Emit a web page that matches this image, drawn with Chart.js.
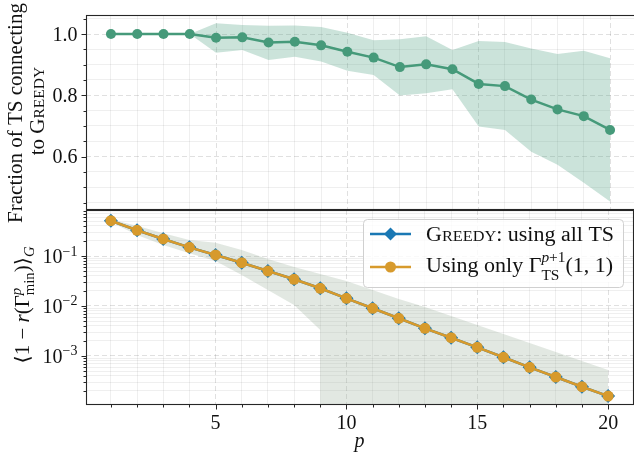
<!DOCTYPE html>
<html>
<head>
<meta charset="utf-8">
<script src="https://cdn.jsdelivr.net/npm/chart.js@4.4.1/dist/chart.umd.min.js"></script>
<style>
  html, body { margin: 0; padding: 0; background: #fff; overflow: hidden; }
  #wrap { position: relative; width: 640px; height: 462px; }
  #wrap canvas { position: absolute; left: 0; top: 0; }
</style>
</head>
<body>
<div id="wrap">
  <canvas id="lower" width="640" height="462"></canvas>
  <canvas id="upper" width="640" height="462"></canvas>
</div>
<script>
// ---- data ----
const depths = [1, 2, 3, 4, 5, 6, 7, 8, 9, 10, 11, 12, 13, 14, 15, 16, 17, 18, 19, 20];

// fraction of transition states that connect to the greedy path (mean and mean ± std)
const fractionMean  = [1.000, 1.000, 1.000, 1.000, 0.988, 0.989, 0.972, 0.975, 0.963, 0.942,
                       0.923, 0.892, 0.901, 0.885, 0.837, 0.830, 0.786, 0.754, 0.732, 0.687];
const fractionUpper = [1.000, 1.000, 1.000, 1.000, 1.035, 1.029, 1.027, 1.028, 1.023, 1.004,
                       0.980, 0.983, 0.993, 0.948, 0.977, 0.974, 0.953, 0.935, 0.945, 0.921];
const fractionLower = [1.000, 1.000, 1.000, 1.000, 0.939, 0.948, 0.915, 0.926, 0.910, 0.880,
                       0.866, 0.799, 0.807, 0.820, 0.698, 0.687, 0.616, 0.573, 0.515, 0.453];

// approximation ratio gap <1 - r> averaged over graphs
const gapGreedy = [0.508, 0.327, 0.219, 0.149, 0.105, 0.0735, 0.0500, 0.0342, 0.0226, 0.01425,
                   0.00900, 0.00568, 0.00358, 0.00232, 0.00149, 0.000942, 0.000594, 0.000380, 0.000243, 0.000158];
const gapOnlyTS = [0.508, 0.327, 0.219, 0.149, 0.105, 0.0735, 0.0500, 0.0342, 0.0226, 0.01425,
                   0.00900, 0.00568, 0.00358, 0.00232, 0.00149, 0.000942, 0.000594, 0.000380, 0.000243, 0.000158];
const gapUpper  = [0.537, 0.404, 0.284, 0.209, 0.184, 0.132, 0.0871, 0.0603, 0.0437, 0.0316,
                   0.0209, 0.0138, 0.00955, 0.00631, 0.00417, 0.00275, 0.00182, 0.00120, 0.000790, 0.000525];
// mean - std; non-positive from p = 10 on (falls off the log axis)
const gapLower  = [0.479, 0.263, 0.166, 0.113, 0.0794, 0.0417, 0.0209, 0.0105, 0.0033, 0,
                   0, 0, 0, 0, 0, 0, 0, 0, 0, 0];

// axis ticks
const xMajorTicks = [5, 10, 15, 20];
const xMinorTicks = [1, 2, 3, 4, 6, 7, 8, 9, 11, 12, 13, 14, 16, 17, 18, 19];
const xTickLabels = ['5', '10', '15', '20'];
const fracMajorTicks = [0.6, 0.8, 1.0];
const fracMinorTicks = [0.45, 0.5, 0.55, 0.65, 0.7, 0.75, 0.85, 0.9, 0.95, 1.05];
const fracTickLabels = ['0.6', '0.8', '1.0'];
const gapMajorTicks = [1e-3, 1e-2, 1e-1];
const gapTickExponents = ['\u22123', '\u22122', '\u22121'];
const gapMinorMantissas = [2, 3, 4, 5, 6, 7, 8, 9];
const gapMinorDecades = [1e-4, 1e-3, 1e-2, 1e-1];

// ---- style ----
const GREEN = '#469a7a';
const BLUE = '#1a78b4';
const ORANGE = '#d79a2c';
const SPINE = '#262626';
const SERIF = '"Liberation Serif", "DejaVu Serif", serif';
const FS = 20;

const X_RANGE = { min: 0.05, max: 20.95 };
const FRAC_RANGE = { min: 0.429, max: 1.062 };
const GAP_RANGE = { min: 1.096e-4, max: 0.832 };
const GAP_FLOOR = 1e-7;

function same(a, b) { return Math.abs(a - b) <= 1e-9 * Math.max(Math.abs(a), Math.abs(b), 1e-12); }
function isIn(list, v) { return list.some(m => same(m, v)); }

const gapMinorTicks = [];
gapMinorDecades.forEach(d => gapMinorMantissas.forEach(m => {
  const v = m * d;
  if (v > GAP_RANGE.min && v < GAP_RANGE.max) gapMinorTicks.push(v);
}));

function gridStyle(majors) {
  return {
    drawTicks: false,
    color: c => (c.tick && isIn(majors, c.tick.value)) ? 'rgba(0,0,0,0.12)' : 'rgba(0,0,0,0.07)',
    lineWidth: c => (c.tick && isIn(majors, c.tick.value)) ? 1 : 0.9
  };
}
function borderStyle(majors) {
  return { display: false, dash: c => (c.tick && isIn(majors, c.tick.value)) ? [5, 3] : [] };
}
function setTicks(majors, minors) {
  return scale => { scale.ticks = majors.concat(minors).sort((a, b) => a - b).map(v => ({ value: v })); };
}

// ---- text helpers (runs with super/subscripts, slightly widened serif) ----
let textStretch = 1;
function fontOf(r) { return (r.italic ? 'italic ' : '') + (r.size || FS) + 'px ' + SERIF; }
function runWidth(ctx, r) {
  if (r.stack) return Math.max(...r.stack.map(s => runsWidth(ctx, s.runs)));
  ctx.font = fontOf(r);
  return ctx.measureText(r.text).width * textStretch + (r.pad || 0);
}
function runsWidth(ctx, runs) { return runs.reduce((w, r) => w + runWidth(ctx, r), 0); }
function drawRuns(ctx, runs, x, y) {
  for (const r of runs) {
    const w = runWidth(ctx, r);
    if (r.stack) {
      for (const s of r.stack) drawRuns(ctx, s.runs, x, y + s.dy);
    } else {
      ctx.font = fontOf(r);
      ctx.save();
      ctx.translate(x, y + (r.dy || 0));
      ctx.scale(textStretch, 1);
      ctx.fillText(r.text, 0, 0);
      ctx.restore();
    }
    x += w;
  }
  return x;
}
function smallCaps(word, size) {
  return [{ text: word[0], size: size }, { text: word.slice(1).toUpperCase(), size: size * 0.74 }];
}
function drawVertical(ctx, runs, baselineX, centerY) {
  const w = runsWidth(ctx, runs);
  ctx.save();
  ctx.translate(baselineX, centerY);
  ctx.rotate(-Math.PI / 2);
  drawRuns(ctx, runs, -w / 2, 0);
  ctx.restore();
}

function drawFrame(ctx, a) {
  ctx.save();
  ctx.strokeStyle = SPINE;
  ctx.lineWidth = 1.1;
  ctx.strokeRect(a.left + 0.5, a.top + 0.5, a.right - a.left, a.bottom - a.top);
  ctx.restore();
}
function drawYTicks(ctx, scale, majors, minors, left) {
  ctx.save();
  ctx.strokeStyle = SPINE;
  ctx.lineWidth = 1;
  ctx.beginPath();
  majors.concat(minors).forEach(v => {
    const y = Math.round(scale.getPixelForValue(v)) + 0.5;
    const len = isIn(majors, v) ? 5 : 3;
    ctx.moveTo(left + 0.5, y); ctx.lineTo(left + 0.5 - len, y);
  });
  ctx.stroke();
  ctx.restore();
}
function drawXTicks(ctx, scale, majors, minors, bottom) {
  ctx.save();
  ctx.strokeStyle = SPINE;
  ctx.lineWidth = 1;
  ctx.beginPath();
  majors.concat(minors).forEach(v => {
    const x = Math.round(scale.getPixelForValue(v)) + 0.5;
    const len = isIn(majors, v) ? 5 : 3;
    ctx.moveTo(x, bottom + 0.5); ctx.lineTo(x, bottom + 0.5 + len);
  });
  ctx.stroke();
  ctx.restore();
}

// ---- upper panel: fraction connecting to Greedy ----
const upperDecor = {
  id: 'upperDecor',
  afterDraw(chart) {
    const ctx = chart.ctx, a = chart.chartArea, ys = chart.scales.y;
    drawFrame(ctx, a);
    drawYTicks(ctx, ys, fracMajorTicks, fracMinorTicks, a.left);
    ctx.save();
    ctx.fillStyle = '#111';
    ctx.textAlign = 'right';
    ctx.textBaseline = 'alphabetic';
    ctx.font = FS + 'px ' + SERIF;
    fracMajorTicks.forEach((v, i) => {
      ctx.fillText(fracTickLabels[i], a.left - 8.5, ys.getPixelForValue(v) + 6.6);
    });
    ctx.textAlign = 'left';
    const cy = (a.top + a.bottom) / 2 + 1;
    textStretch = 1.05;
    drawVertical(ctx, [{ text: 'Fraction of TS connecting' }], 21.5, cy);
    drawVertical(ctx, [{ text: 'to ' }].concat(smallCaps('Greedy', FS)), 43.5, cy - 2);
    textStretch = 1;
    ctx.restore();
  }
};

new Chart(document.getElementById('upper'), {
  type: 'line',
  data: {
    datasets: [
      {
        label: 'upper',
        data: depths.map((p, i) => ({ x: p, y: fractionUpper[i] })),
        borderWidth: 0, pointRadius: 0, borderColor: 'rgba(0,0,0,0)',
        backgroundColor: 'rgba(70,154,122,0.28)', fill: '+1', order: 2
      },
      {
        label: 'lower',
        data: depths.map((p, i) => ({ x: p, y: fractionLower[i] })),
        borderWidth: 0, pointRadius: 0, borderColor: 'rgba(0,0,0,0)', fill: false, order: 3
      },
      {
        label: 'Fraction of TS connecting to Greedy',
        data: depths.map((p, i) => ({ x: p, y: fractionMean[i] })),
        borderColor: GREEN, backgroundColor: GREEN, borderWidth: 2.5,
        pointRadius: 5, pointBorderWidth: 0, pointBackgroundColor: GREEN, fill: false, order: 0
      }
    ]
  },
  options: {
    responsive: false, animation: false, events: [],
    layout: { padding: { left: 0, right: 5, top: 15, bottom: 253 } },
    plugins: { legend: { display: false }, tooltip: { enabled: false } },
    scales: {
      x: {
        type: 'linear', min: X_RANGE.min, max: X_RANGE.max, bounds: 'data',
        afterBuildTicks: setTicks(xMajorTicks, xMinorTicks),
        afterFit: s => { s.height = 0; },
        ticks: { display: false },
        grid: gridStyle(xMajorTicks), border: borderStyle(xMajorTicks)
      },
      y: {
        type: 'linear', min: FRAC_RANGE.min, max: FRAC_RANGE.max, bounds: 'data',
        afterBuildTicks: setTicks(fracMajorTicks, fracMinorTicks),
        afterFit: s => { s.width = 86; },
        ticks: { display: false },
        grid: gridStyle(fracMajorTicks), border: borderStyle(fracMajorTicks)
      }
    }
  },
  plugins: [upperDecor]
});

// ---- lower panel: approximation-ratio gap (log scale) ----
function lowerBandPoints() {
  const pts = [];
  let dropped = false;
  depths.forEach((p, i) => {
    if (gapLower[i] > 0) {
      pts.push({ x: p, y: gapLower[i] });
    } else {
      if (!dropped && i > 0) pts.push({ x: depths[i - 1], y: GAP_FLOOR });
      dropped = true;
      pts.push({ x: p, y: GAP_FLOOR });
    }
  });
  return pts;
}

function drawDiamond(ctx, x, y, r) {
  ctx.beginPath();
  ctx.moveTo(x - r, y); ctx.lineTo(x, y - r); ctx.lineTo(x + r, y); ctx.lineTo(x, y + r);
  ctx.closePath(); ctx.fill();
}
function drawDot(ctx, x, y, r) {
  ctx.beginPath(); ctx.arc(x, y, r, 0, Math.PI * 2); ctx.fill();
}

const lowerDecor = {
  id: 'lowerDecor',
  afterDraw(chart) {
    const ctx = chart.ctx, a = chart.chartArea, ys = chart.scales.y, xs = chart.scales.x;
    drawFrame(ctx, a);
    drawYTicks(ctx, ys, gapMajorTicks, gapMinorTicks, a.left);
    drawXTicks(ctx, xs, xMajorTicks, xMinorTicks, a.bottom);

    ctx.save();
    ctx.fillStyle = '#111';
    ctx.textBaseline = 'alphabetic';
    // y tick labels 10^k
    gapMajorTicks.forEach((v, i) => {
      const runs = [{ text: '10' }, { text: gapTickExponents[i], size: 14, dy: -7.5 }];
      const w = runsWidth(ctx, runs);
      drawRuns(ctx, runs, a.left - 8.5 - w, ys.getPixelForValue(v) + 7);
    });
    // x tick labels
    ctx.textAlign = 'center';
    ctx.font = FS + 'px ' + SERIF;
    xMajorTicks.forEach((v, i) => ctx.fillText(xTickLabels[i], xs.getPixelForValue(v), a.bottom + 24.5));
    ctx.font = 'italic ' + FS + 'px ' + SERIF;
    ctx.fillText('p', (a.left + a.right) / 2, a.bottom + 43);
    ctx.textAlign = 'left';

    // y axis title
    const title = [
      { text: '\u27E81 \u2212 ' }, { text: 'r', italic: true }, { text: '(\u0393' },
      { stack: [
        { dy: -8, runs: [{ text: 'p', italic: true, size: 14 }] },
        { dy: 5, runs: [{ text: 'min', size: 14 }] }
      ] },
      { text: ')\u27E9' }, { text: 'G', italic: true, size: 14, dy: 5 }
    ];
    textStretch = 1.05;
    drawVertical(ctx, title, 29, (a.top + a.bottom) / 2 - 2);

    // legend
    const bx = a.right - 10 - 260, by = a.top + 9, bw = 260, bh = 68;
    ctx.beginPath();
    ctx.roundRect(bx + 0.5, by + 0.5, bw, bh, 4);
    ctx.fillStyle = 'rgba(255,255,255,0.8)';
    ctx.fill();
    ctx.strokeStyle = '#d0d0d0';
    ctx.lineWidth = 1;
    ctx.stroke();

    const hx0 = bx + 7, hx1 = bx + 48, hxm = (hx0 + hx1) / 2, tx = bx + 63;
    const row1 = by + 15, row2 = by + 48;
    ctx.lineWidth = 2.5;
    ctx.strokeStyle = BLUE; ctx.fillStyle = BLUE;
    ctx.beginPath(); ctx.moveTo(hx0, row1); ctx.lineTo(hx1, row1); ctx.stroke();
    drawDiamond(ctx, hxm, row1, 6.5);
    ctx.strokeStyle = ORANGE; ctx.fillStyle = ORANGE;
    ctx.beginPath(); ctx.moveTo(hx0, row2); ctx.lineTo(hx1, row2); ctx.stroke();
    drawDot(ctx, hxm, row2, 5.5);

    ctx.fillStyle = '#111';
    textStretch = 1.1;
    drawRuns(ctx, smallCaps('Greedy', FS).concat([{ text: ': using all TS' }]), tx, row1 + 7);
    drawRuns(ctx, [
      { text: 'Using only \u0393' },
      { stack: [
        { dy: -10, runs: [{ text: 'p', italic: true, size: 14 }, { text: '+1', size: 14 }] },
        { dy: 8, runs: [{ text: 'TS', size: 14 }] }
      ] },
      { text: '(1, 1)' }
    ], tx, row2 + 5);
    textStretch = 1;
    ctx.restore();
  }
};

new Chart(document.getElementById('lower'), {
  type: 'line',
  data: {
    datasets: [
      {
        label: 'upper',
        data: depths.map((p, i) => ({ x: p, y: gapUpper[i] })),
        borderWidth: 0, pointRadius: 0, borderColor: 'rgba(0,0,0,0)',
        backgroundColor: 'rgba(150,172,150,0.28)', fill: '+1', order: 2
      },
      {
        label: 'lower',
        data: lowerBandPoints(),
        borderWidth: 0, pointRadius: 0, borderColor: 'rgba(0,0,0,0)', fill: false, order: 3
      },
      {
        label: 'Greedy: using all TS',
        data: depths.map((p, i) => ({ x: p, y: gapGreedy[i] })),
        borderColor: BLUE, backgroundColor: BLUE, borderWidth: 2.5,
        pointStyle: 'rectRot', pointRadius: 7, pointBorderWidth: 0, pointBackgroundColor: BLUE,
        fill: false, order: 1
      },
      {
        label: 'Using only Γ_TS^{p+1}(1,1)',
        data: depths.map((p, i) => ({ x: p, y: gapOnlyTS[i] })),
        borderColor: ORANGE, backgroundColor: ORANGE, borderWidth: 2.5,
        pointRadius: 5.5, pointBorderWidth: 0, pointBackgroundColor: ORANGE,
        fill: false, order: 0
      }
    ]
  },
  options: {
    responsive: false, animation: false, events: [],
    layout: { padding: { left: 0, right: 5, top: 210, bottom: 0 } },
    plugins: { legend: { display: false }, tooltip: { enabled: false } },
    scales: {
      x: {
        type: 'linear', min: X_RANGE.min, max: X_RANGE.max, bounds: 'data',
        afterBuildTicks: setTicks(xMajorTicks, xMinorTicks),
        afterFit: s => { s.height = 58; },
        ticks: { display: false },
        grid: gridStyle(xMajorTicks), border: borderStyle(xMajorTicks)
      },
      y: {
        type: 'logarithmic', min: GAP_RANGE.min, max: GAP_RANGE.max, bounds: 'data',
        afterBuildTicks: setTicks(gapMajorTicks, gapMinorTicks),
        afterFit: s => { s.width = 86; },
        ticks: { display: false },
        grid: gridStyle(gapMajorTicks), border: borderStyle(gapMajorTicks)
      }
    }
  },
  plugins: [lowerDecor]
});
</script>
</body>
</html>
